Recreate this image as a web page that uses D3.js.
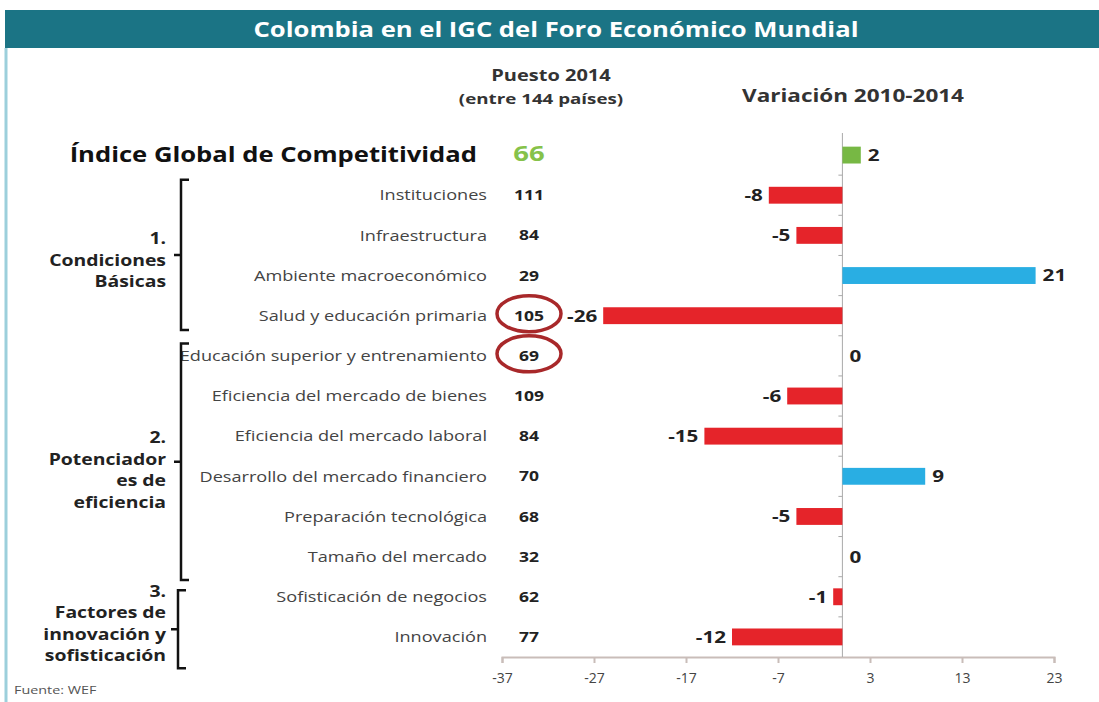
<!DOCTYPE html>
<html>
<head>
<meta charset="utf-8">
<script src="https://cdn.jsdelivr.net/npm/d3@7"></script>
<style>
  body { margin: 0; background: #fff; }
  text { font-family: "Open Sans", Lato, sans-serif; }
</style>
</head>
<body>
<div id="chart"></div>
<script>
// data
var categories = [
    "Índice Global de Competitividad",
    "Instituciones",
    "Infraestructura",
    "Ambiente macroeconómico",
    "Salud y educación primaria",
    "Educación superior y entrenamiento",
    "Eficiencia del mercado de bienes",
    "Eficiencia del mercado laboral",
    "Desarrollo del mercado financiero",
    "Preparación tecnológica",
    "Tamaño del mercado",
    "Sofisticación de negocios",
    "Innovación"
];
var puesto = [66, 111, 84, 29, 105, 69, 109, 84, 70, 68, 32, 62, 77];
var variacion = [2, -8, -5, 21, -26, 0, -6, -15, 9, -5, 0, -1, -12];
var xTicks = [-37, -27, -17, -7, 3, 13, 23];
var groupLabels = [
    ["1.", "Condiciones", "Básicas"],
    ["2.", "Potenciador", "es de", "eficiencia"],
    ["3.", "Factores de", "innovación y", "sofisticación"]
];
var groupRows = [[1, 4], [5, 10], [11, 12]];
var circled = [4, 5];

var svgWidth = 1099;
var svgHeight = 702;
var S = 1.25; // the source picture is stretched sideways

var svg = d3.select('#chart')
    .append('svg')
    .attr('width', svgWidth)
    .attr('height', svgHeight);

function place(sel, x, y) {
    return sel.attr('transform', `translate(${x},${y}) scale(${S},1)`);
}

// title bar and left border
svg.append('rect')
    .attr('x', 5).attr('y', 10)
    .attr('width', svgWidth - 5).attr('height', 38)
    .attr('fill', '#1b7485');
svg.append('line')
    .attr('x1', 6).attr('x2', 6)
    .attr('y1', 48).attr('y2', svgHeight)
    .attr('stroke', '#9ccfdb').attr('stroke-width', 3);
place(svg.append('text'), 556, 37)
    .attr('text-anchor', 'middle')
    .attr('fill', '#fff')
    .attr('font-size', '20.5px')
    .attr('font-weight', 'bold')
    .text('Colombia en el IGC del Foro Económico Mundial');

// column headers
place(svg.append('text'), 551, 81)
    .attr('text-anchor', 'middle')
    .attr('font-size', '16px').attr('font-weight', 'bold').attr('fill', '#333')
    .text('Puesto 2014');
place(svg.append('text'), 541, 104)
    .attr('text-anchor', 'middle')
    .attr('font-size', '15px').attr('font-weight', 'bold').attr('fill', '#333')
    .text('(entre 144 países)');
place(svg.append('text'), 853, 102)
    .attr('text-anchor', 'middle')
    .attr('font-size', '18px').attr('font-weight', 'bold').attr('fill', '#333')
    .text('Variación 2010-2014');

var xScale = d3.scaleLinear()
    .domain([-37, 23])
    .range([502, 1054]);

var yScale = d3.scaleBand()
    .domain(categories)
    .range([135, 657])
    .paddingInner(0.58)
    .paddingOuter(0.29);

var axisY = 657;

// x axis
var bottomAxis = d3.axisBottom(xScale)
    .tickValues(xTicks)
    .tickSize(6)
    .tickFormat(d => String(d));

var xAxisG = svg.append('g')
    .attr('transform', `translate(0, ${axisY})`)
    .call(bottomAxis);
xAxisG.select('.domain').attr('stroke', '#c9bdb9').attr('stroke-width', 2);
xAxisG.selectAll('.tick line').attr('stroke', '#c9bdb9').attr('stroke-width', 2);
xAxisG.selectAll('.tick text')
    .attr('font-family', '"Open Sans", sans-serif')
    .attr('font-size', '14px')
    .attr('fill', '#444')
    .attr('dy', '1.2em');

// zero line with small category ticks
var x0 = xScale(0);
svg.append('line')
    .attr('x1', x0).attr('x2', x0)
    .attr('y1', 133).attr('y2', axisY)
    .attr('stroke', '#a9a9a9').attr('stroke-width', 1);
var step = yScale.step();
svg.selectAll('line.ytick')
    .data(categories.slice(1))
    .enter()
    .append('line')
    .attr('class', 'ytick')
    .attr('x1', x0 - 4).attr('x2', x0)
    .attr('y1', d => yScale(d) - (step - yScale.bandwidth()) / 2)
    .attr('y2', d => yScale(d) - (step - yScale.bandwidth()) / 2)
    .attr('stroke', '#a9a9a9');

// bars
function barColor(d, i) {
    if (i === 0) return '#77b844';
    return d > 0 ? '#29aee3' : '#e5242a';
}
svg.selectAll('rect.bar')
    .data(variacion)
    .enter()
    .append('rect')
    .attr('class', 'bar')
    .attr('x', d => xScale(Math.min(0, d)))
    .attr('y', (d, i) => yScale(categories[i]))
    .attr('width', d => Math.abs(xScale(d) - x0))
    .attr('height', yScale.bandwidth())
    .attr('fill', barColor);

var mid = (d, i) => yScale(categories[i]) + yScale.bandwidth() / 2;

// bar value labels
svg.selectAll('text.val')
    .data(variacion)
    .enter()
    .append('text')
    .attr('class', 'val')
    .attr('transform', (d, i) => `translate(${d < 0 ? xScale(d) - 6 : xScale(d) + 7},${mid(d, i)}) scale(${S},1)`)
    .attr('dy', '0.36em')
    .attr('text-anchor', d => d < 0 ? 'end' : 'start')
    .attr('font-size', '16.5px')
    .attr('font-weight', 'bold')
    .attr('fill', '#222')
    .text(d => d);

// category labels
svg.selectAll('text.cat')
    .data(categories)
    .enter()
    .append('text')
    .attr('class', 'cat')
    .attr('transform', (d, i) => `translate(${i === 0 ? 477 : 487},${mid(d, i)}) scale(${S},1)`)
    .attr('dy', '0.36em')
    .attr('text-anchor', 'end')
    .attr('font-size', (d, i) => i === 0 ? '20.5px' : '14.5px')
    .attr('font-weight', (d, i) => i === 0 ? 'bold' : 'normal')
    .attr('fill', (d, i) => i === 0 ? '#111' : '#444')
    .text(d => d);

// puesto column
svg.selectAll('text.puesto')
    .data(puesto)
    .enter()
    .append('text')
    .attr('class', 'puesto')
    .attr('transform', (d, i) => `translate(529,${mid(d, i) - (i === 0 ? 2 : 0)}) scale(${S},1)`)
    .attr('dy', '0.36em')
    .attr('text-anchor', 'middle')
    .attr('font-size', (d, i) => i === 0 ? '22px' : '14px')
    .attr('font-weight', 'bold')
    .attr('fill', (d, i) => i === 0 ? '#86c24a' : '#222')
    .text(d => d);

// red circles
svg.selectAll('ellipse.mark')
    .data(circled)
    .enter()
    .append('ellipse')
    .attr('class', 'mark')
    .attr('cx', 529)
    .attr('cy', d => yScale(categories[d]) + yScale.bandwidth() / 2 - 2)
    .attr('rx', 32)
    .attr('ry', 18)
    .attr('fill', 'none')
    .attr('stroke', '#a8282a')
    .attr('stroke-width', 3.5);

// group brackets
var bracketX = [181, 181, 178];
var bracketPad = [[-7, 6], [-4, 15], [2, 23]];
var labelShift = [5, 8, -6];
groupRows.forEach(function(r, gi) {
    var bx = bracketX[gi];
    var top = yScale(categories[r[0]]) + bracketPad[gi][0];
    var bottom = yScale(categories[r[1]]) + yScale.bandwidth() + bracketPad[gi][1];
    var m = (top + bottom) / 2;
    var p = d3.path();
    p.moveTo(bx + 8, top);
    p.lineTo(bx, top);
    p.lineTo(bx, bottom);
    p.lineTo(bx + 8, bottom);
    p.moveTo(bx, m);
    p.lineTo(bx - 7, m);
    svg.append('path')
        .attr('d', p.toString())
        .attr('fill', 'none')
        .attr('stroke', '#111')
        .attr('stroke-width', 2.5);

    var lines = groupLabels[gi];
    var lh = 21.5;
    var startY = m - (lines.length - 1) * lh / 2 + labelShift[gi];
    place(svg.append('text'), 166, 0)
        .attr('text-anchor', 'end')
        .attr('font-size', '15.5px')
        .attr('font-weight', 'bold')
        .attr('fill', '#222')
        .selectAll('tspan')
        .data(lines)
        .enter()
        .append('tspan')
        .attr('x', 0)
        .attr('y', (d, i) => startY + i * lh)
        .attr('dy', '0.36em')
        .text(d => d);
});

// source
place(svg.append('text'), 14, 694)
    .attr('font-size', '11.5px')
    .attr('fill', '#555')
    .text('Fuente: WEF');
</script>
</body>
</html>
